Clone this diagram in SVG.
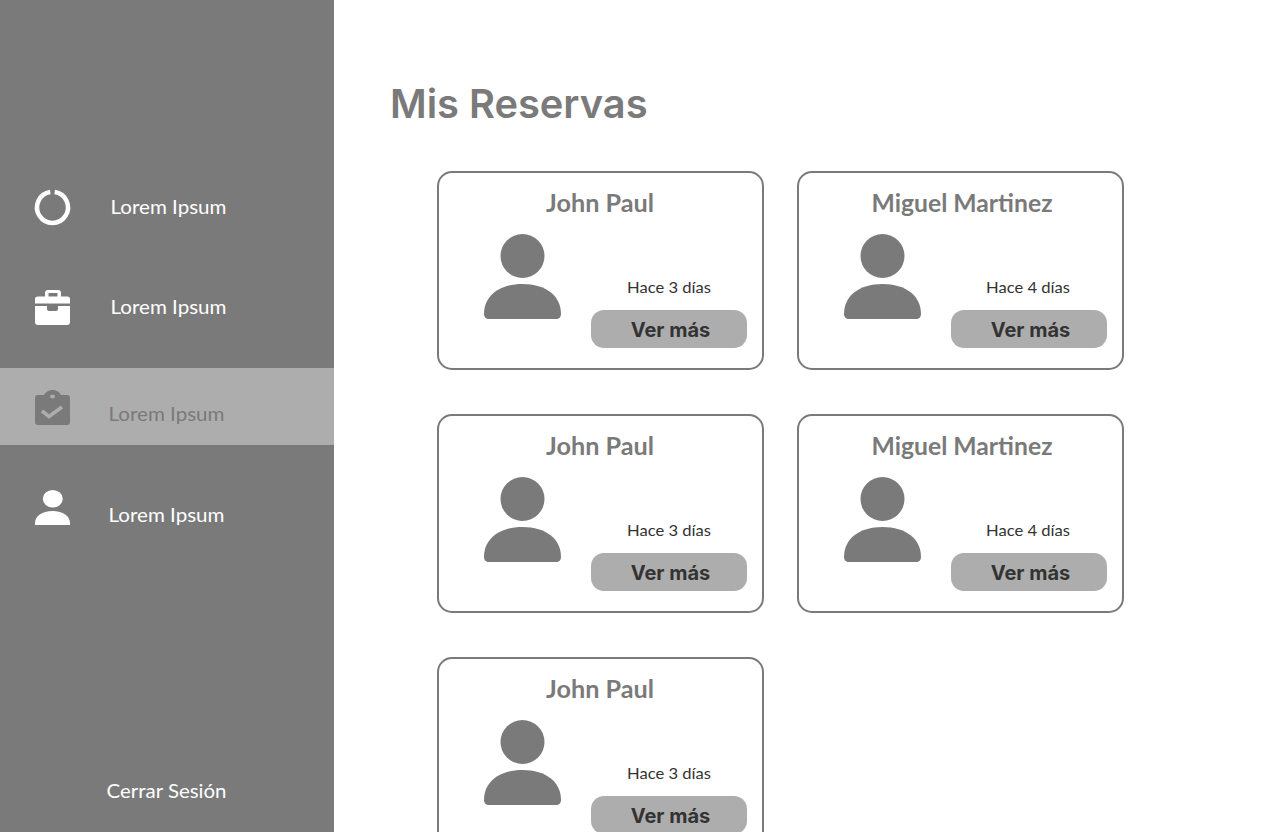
<svg xmlns="http://www.w3.org/2000/svg" width="1280" height="832" viewBox="0 0 1280 832">
<style>
.nav{font-family:"Lato","Noto Sans",sans-serif;font-size:20px;fill:#fff}
.name{font-family:"Lato","Noto Sans",sans-serif;font-size:24px;font-weight:700;fill:#7a7a7a;text-anchor:middle}
.ago{font-family:"Lato","Noto Sans",sans-serif;font-size:16px;fill:#333;text-anchor:middle}
.btn{font-family:"Inter","Liberation Sans",sans-serif;font-size:20px;font-weight:700;fill:#333;text-anchor:middle}
.box{fill:#fff;stroke:#7a7a7a;stroke-width:2}
.pill{fill:#adadad}
.ico{fill:#7a7a7a}
</style>
<defs>
<g id="card">
<rect class="box" x="1" y="1" width="325" height="197" rx="14"/>
<circle class="ico" cx="85.500" cy="85" r="22"/>
<path class="ico" d="M47 143C47 125 62 113 85.500 113C109 113 124 125 124 143C124 146 122 148 119 148H52C49 148 47 146 47 143Z"/>
<rect class="pill" x="154" y="139" width="156" height="38" rx="13"/>
</g>
</defs>
<rect width="1280" height="832" fill="#fff"/>
<g id="sidebar">
<rect width="334" height="832" fill="#7a7a7a"/>
<rect y="368" width="334" height="77" fill="#adadad"/>
</g>
<g id="nav-1">
<path d="M50.300 192.100A15.500 15.500 0 1 0 54.700 192.100" fill="none" stroke="#fff" stroke-width="4.500"/>
<text class="nav" x="110.500" y="214" textLength="116" lengthAdjust="spacingAndGlyphs">Lorem Ipsum</text>
</g>
<g id="nav-2">
<path d="M35 303.500V299Q35 296.500 38 296.500H45V293Q45 290 48 290H58Q61 290 61 293V296.500H67Q70 296.500 70 299V303.500ZM48.500 293V296.500H57.500V293Z" fill="#fff" fill-rule="evenodd"/>
<path d="M35 306H47V309Q47 311 49 311H56Q58 311 58 309V306H70V322Q70 325 67 325H38Q35 325 35 322Z" fill="#fff"/>
<text class="nav" x="110.500" y="314" textLength="116" lengthAdjust="spacingAndGlyphs">Lorem Ipsum</text>
</g>
<g id="nav-3">
<path class="ico" fill-rule="evenodd" d="M38 395H44Q47 390 52.500 390Q58 390 61 395H67Q70 395 70 398V422Q70 425 67 425H38Q35 425 35 422V398Q35 395 38 395ZM52.500 394.500A2.500 2 0 1 0 52.500 398.500A2.500 2 0 1 0 52.500 394.500Z"/>
<path d="M42 411L49 416.500L62 407" fill="none" stroke="#adadad" stroke-width="3.500"/>
<text class="nav" style="fill:#7a7a7a" x="108.500" y="421" textLength="116" lengthAdjust="spacingAndGlyphs">Lorem Ipsum</text>
</g>
<g id="nav-4">
<ellipse cx="52.800" cy="498.800" rx="10" ry="8.800" fill="#fff"/>
<path d="M35 525V523C35 516 42 511 52.500 511C63 511 70 516 70 523V525Z" fill="#fff"/>
<text class="nav" x="108.500" y="522" textLength="116" lengthAdjust="spacingAndGlyphs">Lorem Ipsum</text>
</g>
<g id="logout">
<text class="nav" x="106.500" y="798" textLength="120" lengthAdjust="spacingAndGlyphs">Cerrar Sesión</text>
</g>
<text id="title" x="390" y="118" font-family="Inter, 'Liberation Sans', sans-serif" font-size="40" font-weight="600" fill="#7a7a7a" textLength="257.500" lengthAdjust="spacingAndGlyphs">Mis Reservas</text>
<g id="card-1"><use href="#card" x="437" y="171"/>
<text class="name" x="600" y="212" textLength="108" lengthAdjust="spacingAndGlyphs">John Paul</text>
<text class="ago" x="669" y="293" textLength="84" lengthAdjust="spacingAndGlyphs">Hace 3 días</text>
<text class="btn" x="670.500" y="336.500">Ver más</text></g>
<g id="card-2"><use href="#card" x="797" y="171"/>
<text class="name" x="962" y="212" textLength="181" lengthAdjust="spacingAndGlyphs">Miguel Martinez</text>
<text class="ago" x="1028" y="293" textLength="84" lengthAdjust="spacingAndGlyphs">Hace 4 días</text>
<text class="btn" x="1030.500" y="336.500">Ver más</text></g>
<g id="card-3"><use href="#card" x="437" y="414"/>
<text class="name" x="600" y="455" textLength="108" lengthAdjust="spacingAndGlyphs">John Paul</text>
<text class="ago" x="669" y="536" textLength="84" lengthAdjust="spacingAndGlyphs">Hace 3 días</text>
<text class="btn" x="670.500" y="579.500">Ver más</text></g>
<g id="card-4"><use href="#card" x="797" y="414"/>
<text class="name" x="962" y="455" textLength="181" lengthAdjust="spacingAndGlyphs">Miguel Martinez</text>
<text class="ago" x="1028" y="536" textLength="84" lengthAdjust="spacingAndGlyphs">Hace 4 días</text>
<text class="btn" x="1030.500" y="579.500">Ver más</text></g>
<g id="card-5"><use href="#card" x="437" y="657"/>
<text class="name" x="600" y="698" textLength="108" lengthAdjust="spacingAndGlyphs">John Paul</text>
<text class="ago" x="669" y="779" textLength="84" lengthAdjust="spacingAndGlyphs">Hace 3 días</text>
<text class="btn" x="670.500" y="822.500">Ver más</text></g>
</svg>
